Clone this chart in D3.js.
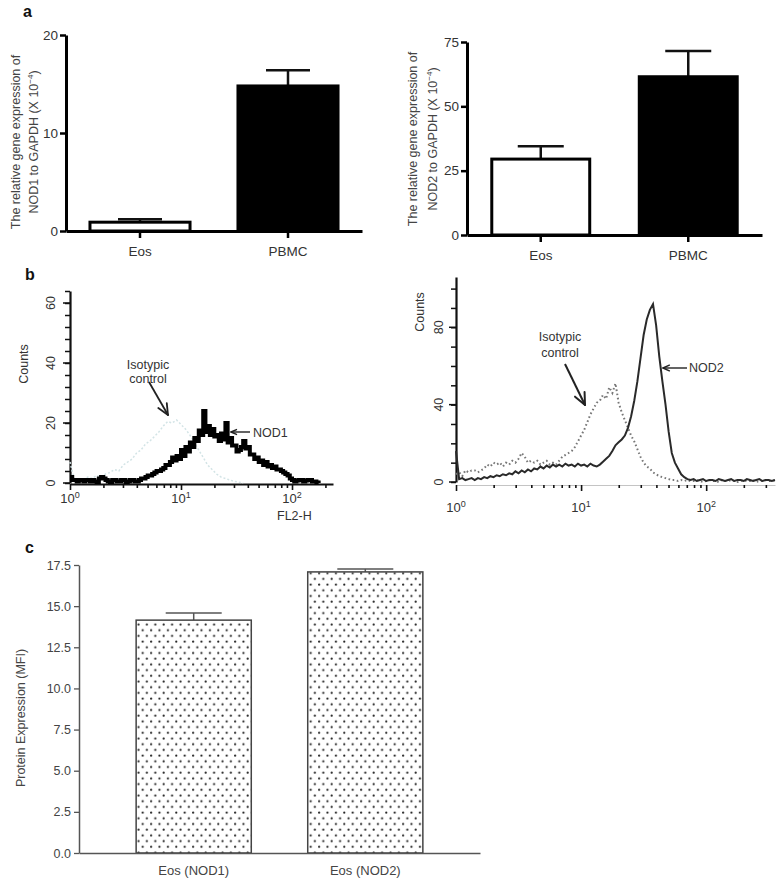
<!DOCTYPE html>
<html><head><meta charset="utf-8">
<script src="https://cdn.jsdelivr.net/npm/d3@7"></script>
<style>
body{margin:0;background:#fff;}
svg{display:block;font-family:Arial,"Liberation Sans",Helvetica,sans-serif;}
</style></head><body>
<svg id="fig" width="776" height="880"></svg>
<script>
// ================= DATA =================
// Panel a: relative gene expression (x 10^-4)
const geneCategories = ["Eos", "PBMC"];
const nod1Gene = [0.9, 14.8];
const nod1GeneErr = [0.3, 1.6];
const nod1GeneTicks = [0, 10, 20];
const nod2Gene = [29.5, 61.5];
const nod2GeneErr = [5, 10];
const nod2GeneTicks = [0, 25, 50, 75];

// Panel b: flow cytometry histograms (counts per log channel)
const flowMajorTicks = [1, 10, 100];
const flowMajorExp = ["0", "1", "2"];
const nod1ChPerDecade = 50;
const nod1FlowCounts = [
  2,1,1,0.5,1,1,0.5,1,1,0.5,
  1,0.5,0.3,1.5,2,1.5,1,0.5,0.3,1,
  1,0.5,0.5,1,1,0.3,0.5,1,1,0.5,
  0.5,1,1.5,1.5,2,2.5,2.5,3,3.5,4,
  4,4.5,5,6,6,7,8.5,7.5,9,8,
  11,9,12,10.5,13.5,12,15,14,17.5,16,
  24,17,19,16,18,15.5,16,14,16.5,14.5,
  20,13.5,15,12.5,12.5,10.5,11,12,14,11.5,
  12,9.5,9.5,8,8.5,7,7.5,6,7,5.5,
  6,5,5.5,4.5,4.5,4,3.5,3,2.5,1.5,
  1,0.5,0.8,1,1,0.5,0.8,1,1,0.5,
  0.5,0.2,0];
const nod1IsoChPerDecade = 25;
const nod1IsoCounts = [
  7,1,1.5,1,2,1.5,2.5,2,3,3.5,
  4.5,4,6,7,8,10,11,13,14,15.5,
  17,19,20.5,20,21,19.5,18,16,13.5,11,
  8.5,6,4.5,3,2,1.5,1,0.5,0.3,0];
const nod1CountLabels = [0, 20, 40, 60];
const nod1CountMinorStep = 4;

const nod2ChPerDecade = 40;
const nod2FlowCounts = [
  16,1.5,2,1,1.5,2,1,2,1.5,2.5,
  2,3,2.5,3.5,3,4,3.5,4.5,4,5.5,
  4.5,6,5,6.5,5.5,7,6.5,8,7,8.5,
  7.5,9,8,9,8,9.5,8.5,9,8,9.5,
  8.5,9,8,9.5,8.5,8,9,10.5,12,13.5,
  16,19,20.5,22,24,28,34,42,52,64,
  76,84,89,92,81,65,52,40,26,15,
  10,7,4,2.5,1.5,1,1.5,0.5,1,1.5,
  0.5,1,1,0.5,1.5,1,0.5,1,1.5,0.5,
  1,1,0.5,1.5,1,0.5,1,1.5,0.5,1,
  1,0.5,1];
const nod2IsoCounts = [
  4,5,3,6,5,6,6,5,6,7,
  9,8,10,9,10,8,10,9,11,10,
  12,15,13,10,11,10,11,9,10,11,
  9,10,9,11,13,14,15,16,18,21,
  24,27,31,35,38,41,42,45,43,49,
  46,51,41,36,32,28,24,21,17,13,
  10,8,7,5,4,3,2.5,2,1.5,1,
  1,0.5,1,0.5,1,0.5,0.5,1,0.5,0,
  0.5,1,0.5,0.5,0,1,0.5,0.5,1,0.5,
  0,0.5,1,0.5,0.5,1,0,0.5,0.5,1,
  0.5,0.5,1];
const nod2CountLabels = [0, 40, 80];
const nod2CountMinorStep = 10;

// Panel c: protein expression (MFI)
const proteinCategories = ["Eos (NOD1)", "Eos (NOD2)"];
const proteinMFI = [14.15, 17.08];
const proteinErr = [0.43, 0.18];
const proteinTicks = [0, 2.5, 5, 7.5, 10, 12.5, 15, 17.5];

// ================= DRAWING =================
const svg = d3.select("#fig");

function arrow(g, x1, y1, x2, y2, head, w, color) {
  const a = Math.atan2(y2 - y1, x2 - x1);
  g.append("line").attr("x1", x1).attr("y1", y1).attr("x2", x2).attr("y2", y2)
    .attr("stroke", color).attr("stroke-width", w);
  [-0.42, 0.42].forEach(da => {
    g.append("line").attr("x1", x2).attr("y1", y2)
      .attr("x2", x2 - head * Math.cos(a + da)).attr("y2", y2 - head * Math.sin(a + da))
      .attr("stroke", color).attr("stroke-width", w).attr("stroke-linecap", "round");
  });
}

function panelLabel(t, x, y) {
  svg.append("text").attr("x", x).attr("y", y).attr("font-size", 16)
    .attr("font-weight", "bold").attr("fill", "#111").text(t);
}

// ---------- Panel a ----------
function geneBar(o) {
  const g = svg.append("g");
  const y = d3.scaleLinear().domain([0, o.max]).range([o.y0, o.y1]);
  const x = d3.scaleBand().domain(geneCategories).range([o.x0, o.x1])
    .paddingInner(o.pi).paddingOuter(o.po);
  const cx = c => x(c) + x.bandwidth() / 2;

  g.selectAll("line.err").data(o.values).join("line")
    .attr("x1", (d, i) => cx(geneCategories[i])).attr("x2", (d, i) => cx(geneCategories[i]))
    .attr("y1", d => y(d)).attr("y2", (d, i) => y(d + o.errs[i]))
    .attr("stroke", "#111").attr("stroke-width", 2.5);
  g.selectAll("line.cap").data(o.values).join("line")
    .attr("x1", (d, i) => cx(geneCategories[i]) - o.cap).attr("x2", (d, i) => cx(geneCategories[i]) + o.cap)
    .attr("y1", (d, i) => y(d + o.errs[i])).attr("y2", (d, i) => y(d + o.errs[i]))
    .attr("stroke", "#111").attr("stroke-width", 2.5);

  g.selectAll("rect.bar").data(o.values).join("rect")
    .attr("x", (d, i) => x(geneCategories[i])).attr("width", x.bandwidth())
    .attr("y", d => y(d)).attr("height", d => y(0) - y(d))
    .attr("fill", (d, i) => i === 0 ? "#fff" : "#000")
    .attr("stroke", "#000").attr("stroke-width", 3);

  const ya = g.append("g").attr("transform", `translate(${o.x0},0)`)
    .call(d3.axisLeft(y).tickValues(o.ticks).tickSize(6).tickPadding(2).tickSizeOuter(0).tickFormat(d3.format("d")));
  ya.select(".domain").attr("stroke", "#000").attr("stroke-width", 3);
  ya.selectAll(".tick line").attr("stroke", "#000").attr("stroke-width", 2.5);
  ya.selectAll(".tick text").attr("font-size", 13.5).attr("fill", "#333")
    .attr("font-family", "Arial, 'Liberation Sans', sans-serif");

  const xa = g.append("g").attr("transform", `translate(0,${o.y0})`)
    .call(d3.axisBottom(x).tickSize(7).tickPadding(8).tickSizeOuter(0));
  xa.select(".domain").attr("stroke", "#000").attr("stroke-width", 3);
  xa.selectAll(".tick line").attr("stroke", "#000").attr("stroke-width", 2.5);
  xa.selectAll(".tick text").attr("font-size", 13.5).attr("fill", "#333")
    .attr("font-family", "Arial, 'Liberation Sans', sans-serif");

  const cy = o.labelY;
  g.append("text").attr("transform", `translate(${o.lx1},${cy}) rotate(-90)`)
    .attr("text-anchor", "middle").attr("font-size", 12.5).attr("fill", "#444")
    .text("The relative gene expression of");
  const t2 = g.append("text").attr("transform", `translate(${o.lx2},${cy}) rotate(-90)`)
    .attr("text-anchor", "middle").attr("font-size", 12.5).attr("fill", "#444");
  t2.append("tspan").text(o.gene + " to GAPDH (X 10");
  t2.append("tspan").attr("dy", -5).attr("font-size", 8).text("−4");
  t2.append("tspan").attr("dy", 5).text(")");
}

panelLabel("a", 23, 17);
geneBar({max: 20, y0: 231, y1: 35, x0: 66, x1: 362, pi: 0.324, po: 0.162, cap: 22,
  ticks: nod1GeneTicks, values: nod1Gene, errs: nod1GeneErr, gene: "NOD1",
  lx1: 20, lx2: 38, labelY: 142});
geneBar({max: 75, y0: 235, y1: 42, x0: 467, x1: 762, pi: 0.336, po: 0.168, cap: 23,
  ticks: nod2GeneTicks, values: nod2Gene, errs: nod2GeneErr, gene: "NOD2",
  lx1: 417, lx2: 437, labelY: 139});

// ---------- Panel b ----------
function flowPanel(o) {
  const g = svg.append("g");
  const x = d3.scaleLog().domain(o.xdom).range([o.x0, o.x1]);
  const y = d3.scaleLinear().domain([0, o.ymax]).range([o.y0, o.y1]);

  const minor = x.ticks().filter(v => flowMajorTicks.indexOf(v) < 0);
  const xaM = g.append("g").attr("transform", `translate(0,${o.axisY})`)
    .call(d3.axisBottom(x).tickValues(minor).tickSize(o.minorLen).tickFormat(() => "").tickSizeOuter(0));
  xaM.select(".domain").attr("stroke", o.xAxisColor).attr("stroke-width", o.xAxisW);
  xaM.selectAll(".tick line").attr("stroke", "#111").attr("stroke-width", 1.6);
  const xaJ = g.append("g").attr("transform", `translate(0,${o.axisY})`)
    .call(d3.axisBottom(x).tickValues(flowMajorTicks).tickSize(o.majorLen).tickFormat(() => "").tickSizeOuter(0));
  xaJ.select(".domain").remove();
  xaJ.selectAll(".tick line").attr("stroke", "#111").attr("stroke-width", 1.6);
  flowMajorTicks.forEach((v, i) => {
    const t = g.append("text").attr("x", x(v)).attr("y", o.labelBase)
      .attr("text-anchor", "middle").attr("font-size", 13).attr("fill", "#333");
    t.append("tspan").text("10");
    t.append("tspan").attr("dy", -5).attr("font-size", 9).text(flowMajorExp[i]);
  });

  const yMinor = d3.range(0, o.ymax + 0.01, o.minorStep);
  const ya = g.append("g").attr("transform", `translate(${o.x0},0)`)
    .call(d3.axisLeft(y).tickValues(yMinor).tickSize(5).tickFormat(() => "").tickSizeOuter(0));
  ya.select(".domain").attr("stroke", "#111").attr("stroke-width", 2.2);
  ya.selectAll(".tick line").attr("stroke", "#111").attr("stroke-width", 1.5);
  o.countLabels.forEach(v => {
    g.append("line").attr("x1", o.x0 - 7).attr("x2", o.x0).attr("y1", y(v)).attr("y2", y(v))
      .attr("stroke", "#111").attr("stroke-width", 1.5);
    g.append("text").attr("transform", `translate(${o.x0 - o.tickLabelOff},${y(v)}) rotate(-90)`)
      .attr("text-anchor", "middle").attr("font-size", 12.5).attr("fill", "#333").text(v);
  });
  g.append("text").attr("transform", `translate(${o.countsX},${o.countsY}) rotate(-90)`)
    .attr("text-anchor", "middle").attr("font-size", 12.5).attr("fill", "#333").text("Counts");

  const isoLine = d3.line().x((d, i) => x(Math.pow(10, i / o.isoCh))).y(d => y(d))
    .curve(o.isoCurve);
  g.append("path").datum(o.iso).attr("d", isoLine).attr("fill", "none")
    .attr("stroke", o.isoColor).attr("stroke-width", o.isoW).attr("stroke-dasharray", o.isoDash);

  const line = d3.line().x((d, i) => x(Math.pow(10, i / o.ch))).y(d => y(d)).curve(o.curve);
  g.append("path").datum(o.counts).attr("d", line).attr("fill", "none")
    .attr("stroke", o.color).attr("stroke-width", o.width).attr("stroke-linejoin", "miter");

  return {x, y, g};
}

panelLabel("b", 25, 280);
const b1 = flowPanel({xdom: [1, 234], x0: 70, x1: 333, ymax: 64, y0: 483, y1: 291,
  axisY: 484, xAxisColor: "#111", xAxisW: 2, minorLen: 4, majorLen: 6, labelBase: 503,
  minorStep: nod1CountMinorStep, countLabels: nod1CountLabels, tickLabelOff: 15,
  countsX: 28, countsY: 364,
  iso: nod1IsoCounts, isoCh: nod1IsoChPerDecade, isoColor: "#d3e4e6", isoW: 1.5, isoDash: "2,2",
  isoCurve: d3.curveLinear,
  counts: nod1FlowCounts, ch: nod1ChPerDecade, color: "#000", width: 4, curve: d3.curveStepAfter});
svg.append("text").attr("x", 277).attr("y", 520).attr("font-size", 12.5).attr("fill", "#333").text("FL2-H");
{
  const g = b1.g;
  g.append("text").attr("x", 148).attr("y", 369).attr("text-anchor", "middle").attr("font-size", 12.5).attr("fill", "#333").text("Isotypic");
  g.append("text").attr("x", 148).attr("y", 383).attr("text-anchor", "middle").attr("font-size", 12.5).attr("fill", "#333").text("control");
  arrow(g, 149, 382, 168, 415, 12, 1.8, "#222");
  arrow(g, 250, 432, 231, 432, 6, 1.4, "#222");
  g.append("text").attr("x", 253).attr("y", 437).attr("font-size", 12.5).attr("fill", "#333").text("NOD1");
}

const b2 = flowPanel({xdom: [1, 355], x0: 456, x1: 775, ymax: 106, y0: 482, y1: 277,
  axisY: 485, xAxisColor: "#c4c4c4", xAxisW: 1, minorLen: 3, majorLen: 6, labelBase: 512,
  minorStep: nod2CountMinorStep, countLabels: nod2CountLabels, tickLabelOff: 13,
  countsX: 424, countsY: 312,
  iso: nod2IsoCounts, isoCh: nod2ChPerDecade, isoColor: "#777", isoW: 2, isoDash: "1.6,2.6",
  isoCurve: d3.curveLinear,
  counts: nod2FlowCounts, ch: nod2ChPerDecade, color: "#2a2a2a", width: 2, curve: d3.curveLinear});
{
  const g = b2.g;
  g.append("text").attr("x", 560).attr("y", 341).attr("text-anchor", "middle").attr("font-size", 12.5).attr("fill", "#333").text("Isotypic");
  g.append("text").attr("x", 560).attr("y", 357).attr("text-anchor", "middle").attr("font-size", 12.5).attr("fill", "#333").text("control");
  arrow(g, 565, 364, 585, 405, 13, 2, "#222");
  arrow(g, 687, 368, 663, 368, 7, 1.4, "#222");
  g.append("text").attr("x", 689).attr("y", 372).attr("font-size", 12.5).attr("fill", "#333").text("NOD2");
}

// ---------- Panel c ----------
panelLabel("c", 25, 553);
{
  const defs = svg.append("defs");
  const pat = defs.append("pattern").attr("id", "dots").attr("patternUnits", "userSpaceOnUse")
    .attr("width", 8.4).attr("height", 11.4).attr("x", 136).attr("y", 565);
  pat.append("rect").attr("width", 8.4).attr("height", 11.4).attr("fill", "#fff");
  pat.append("circle").attr("cx", 2.5).attr("cy", 2.5).attr("r", 1.1).attr("fill", "#222");
  pat.append("circle").attr("cx", 6.7).attr("cy", 8.2).attr("r", 1.1).attr("fill", "#222");

  const g = svg.append("g");
  const y = d3.scaleLinear().domain([0, 17.5]).range([853, 565]);
  const x = d3.scaleBand().domain(proteinCategories).range([79, 480]).paddingInner(0.329).paddingOuter(0.333);
  const cx = c => x(c) + x.bandwidth() / 2;

  g.selectAll("line.err").data(proteinMFI).join("line")
    .attr("x1", (d, i) => cx(proteinCategories[i])).attr("x2", (d, i) => cx(proteinCategories[i]))
    .attr("y1", d => y(d)).attr("y2", (d, i) => y(d + proteinErr[i]))
    .attr("stroke", "#555").attr("stroke-width", 1.5);
  g.selectAll("line.cap").data(proteinMFI).join("line")
    .attr("x1", (d, i) => cx(proteinCategories[i]) - 28).attr("x2", (d, i) => cx(proteinCategories[i]) + 28)
    .attr("y1", (d, i) => y(d + proteinErr[i])).attr("y2", (d, i) => y(d + proteinErr[i]))
    .attr("stroke", "#555").attr("stroke-width", 1.5);
  g.selectAll("rect.bar").data(proteinMFI).join("rect")
    .attr("x", (d, i) => x(proteinCategories[i])).attr("width", x.bandwidth())
    .attr("y", d => y(d)).attr("height", d => y(0) - y(d))
    .attr("fill", "url(#dots)").attr("stroke", "#444").attr("stroke-width", 1.5);

  const ya = g.append("g").attr("transform", "translate(79,0)")
    .call(d3.axisLeft(y).tickValues(proteinTicks).tickSize(5).tickPadding(3).tickSizeOuter(0).tickFormat(d3.format(".1f")));
  ya.select(".domain").attr("stroke", "#555").attr("stroke-width", 1.5);
  ya.selectAll(".tick line").attr("stroke", "#555").attr("stroke-width", 1.3);
  ya.selectAll(".tick text").attr("font-size", 12.5).attr("fill", "#444")
    .attr("font-family", "Arial, 'Liberation Sans', sans-serif");

  const xa = g.append("g").attr("transform", "translate(0,853)")
    .call(d3.axisBottom(x).tickSize(0).tickPadding(13).tickSizeOuter(0));
  xa.select(".domain").attr("stroke", "#555").attr("stroke-width", 1.5);
  xa.selectAll(".tick text").attr("font-size", 13).attr("fill", "#444")
    .attr("font-family", "Arial, 'Liberation Sans', sans-serif");

  g.append("text").attr("transform", "translate(25,718) rotate(-90)")
    .attr("text-anchor", "middle").attr("font-size", 12.5).attr("fill", "#444")
    .text("Protein Expression (MFI)");
}
</script>
</body></html>
